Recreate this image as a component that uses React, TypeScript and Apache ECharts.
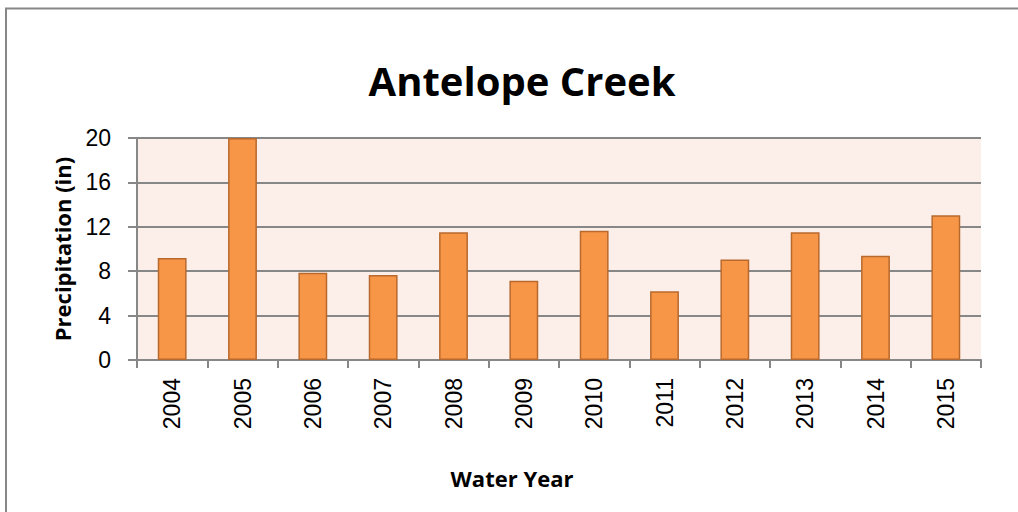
import React, { useEffect, useRef } from "react";
import * as echarts from "echarts";

const categories = ["2004", "2005", "2006", "2007", "2008", "2009", "2010", "2011", "2012", "2013", "2014", "2015"];
const precipitation = [9.2, 20, 7.85, 7.65, 11.5, 7.15, 11.65, 6.2, 9.05, 11.5, 9.4, 13.05];
const yTicks = { min: 0, max: 20, interval: 4 };

export default function App() {
  const ref = useRef<HTMLDivElement>(null);
  useEffect(() => {
    if (!ref.current) return;
    const chart = echarts.init(ref.current, null, { renderer: "svg" });
    const gray = "#878787";
    chart.setOption({
      animation: false,
      backgroundColor: "#ffffff",
      graphic: [
        {
          type: "rect",
          shape: { x: 6, y: 8.5, width: 1040, height: 540 },
          style: { fill: "none", stroke: gray, lineWidth: 2 },
          silent: true,
          z: -1,
        },
        {
          type: "text",
          x: 522,
          y: 80,
          style: {
            text: "Antelope Creek",
            fill: "#000",
            font: "bold 40px 'Open Sans'",
            textAlign: "center",
            textVerticalAlign: "middle",
          },
        },
        {
          type: "text",
          x: 512,
          y: 478,
          style: {
            text: "Water Year",
            fill: "#000",
            font: "bold 22px 'Open Sans'",
            textAlign: "center",
            textVerticalAlign: "middle",
          },
        },
      ],
      grid: {
        left: 137,
        right: 37,
        top: 138,
        bottom: 152,
        show: true,
        backgroundColor: "#FCEEE9",
        borderWidth: 0,
      },
      xAxis: {
        type: "category",
        data: categories,
        axisLine: { show: true, lineStyle: { color: gray, width: 2 } },
        axisTick: { show: true, alignWithLabel: false, length: 8, lineStyle: { color: gray, width: 2 } },
        axisLabel: {
          rotate: 90,
          margin: 18,
          fontFamily: "Liberation Sans",
          fontSize: 23,
          color: "#000",
        },
      },
      yAxis: {
        type: "value",
        min: yTicks.min,
        max: yTicks.max,
        interval: yTicks.interval,
        name: "Precipitation (in)",
        nameLocation: "middle",
        nameGap: 64,
        nameTextStyle: { fontFamily: "Open Sans", fontWeight: "bold", fontSize: 22, color: "#000" },
        axisLine: { show: true, lineStyle: { color: gray, width: 2 } },
        axisTick: { show: true, length: 9, lineStyle: { color: gray, width: 2 } },
        axisLabel: {
          margin: 26,
          fontFamily: "Liberation Sans",
          fontSize: 23,
          color: "#000",
        },
        splitLine: { show: true, lineStyle: { color: gray, width: 2 } },
      },
      series: [
        {
          type: "bar",
          data: precipitation,
          barWidth: "41%",
          itemStyle: { color: "#F79646", borderColor: "#B8692E", borderWidth: 1.5 },
        },
      ],
    });
    return () => chart.dispose();
  }, []);
  return <div ref={ref} style={{ position: "absolute", left: 0, top: 0, width: 1018, height: 512 }} />;
}
